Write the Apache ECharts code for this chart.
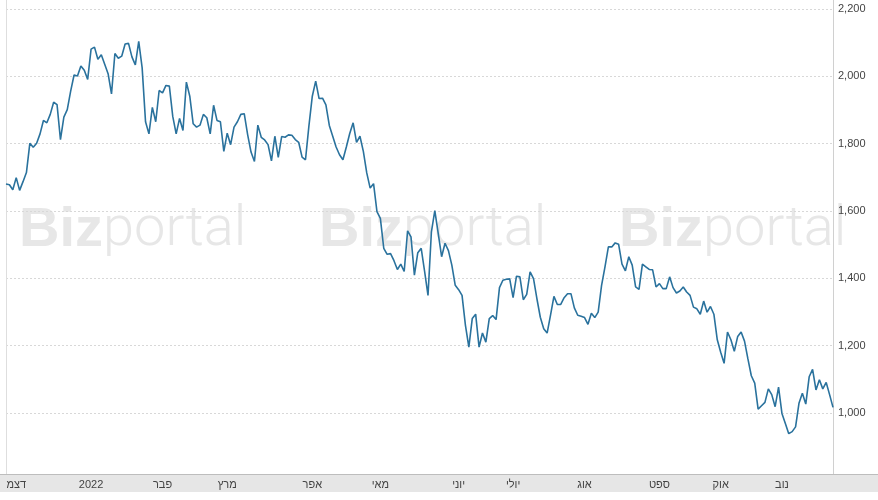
<!DOCTYPE html>
<html><head><meta charset="utf-8">
<script src="https://cdn.jsdelivr.net/npm/echarts@6/dist/echarts.min.js"></script>
<style>html,body{margin:0;padding:0;background:#fff}#c{width:878px;height:500px}</style>
</head><body><div id="c"></div>
<script>
const monthLabels = ['דצמ','2022','פבר','מרץ','אפר','מאי','יוני','יולי','אוג','ספט','אוק','נוב'];
const monthIdx = [3,25,46,65,90,110,133,149,170,192,210,228];
const yTicks = [1000,1200,1400,1600,1800,2000,2200];
const valuesQ1 = [1680,1678,1663,1699,1661,1687,1714,1801,1789,1801,1829,1869,1862,1887,1923,1916,1812,1879,1901,1956,2004,2001,2031,2018,1991,2081,2087,2051,2064,2036,2008,1948,2068,2054,2060,2096,2098,2058,2034,2104,2026,
1865,1829,1908,1865,1958,1951,1973,1971,1881,1829,1875,1839,1983,1941,1859,1849,1855,1887,1877,1829,1914,1869,1865,1777,1831,1797,1849,1865,1887,1889,1827,1775,1747,1855,1819,1811,1797,1749,1822,1759,1821];
const valuesQ2 = [1819,1826,1825,1812,1804,1760,1752,1852,1941,1986,1934,1935,1915,1854,1822,1790,1767,1752,1790,1830,1862,1804,1822,1777,1713,1668,1681,1598,1578,1489,1471,1473,1452,1426,1442,1420,1541,1523,1409,1476,1489,
1420,1349,1538,1601,1533,1464,1504,1482,1439,1379,1366,1349,1260,1195,1280,1293,1195,1237,1210,1280,1289,1277,1372,1394,1397,1398,1342,1406,1404,1336,1352,1419,1399,1339,1284,1250,1237,1290,1346,1322,1322,1342];
const valuesQ3 = [1354,1354,1312,1290,1287,1283,1263,1296,1283,1299,1379,1434,1493,1493,1505,1501,1442,1422,1464,1439,1374,1367,1442,1434,1426,1425,1374,1384,1369,1369,1404,1372,1356,1362,1374,1359,1349,1314,1309,1293,1332,
1299,1316,1293,1217,1180,1147,1240,1217,1183,1227,1240,1213,1160,1110,1088,1011,1021,1031,1071,1054,1018,1076,998,968,938,944,958,1028,1058,1026,1107,1129,1068,1098,1071,1090,1054,1016];

const values = valuesQ1.concat(valuesQ2, valuesQ3);
const categories = values.map((v, i) => String(i));
const labelAt = {};
monthIdx.forEach((k, j) => { labelAt[k] = monthLabels[j]; });

const chart = echarts.init(document.getElementById('c'), null, {renderer: 'canvas'});
const wmColor = '#e7e7e7';
const wm = (x) => ({
  type: 'text', left: x, top: 203, z: -10, silent: true,
  style: {
    text: '{b|Biz}{p|portal}',
    rich: {
      b: {fontFamily: 'Liberation Sans', fontWeight: 'bold', fontSize: 56, fill: wmColor},
      p: {fontFamily: 'Roboto', fontWeight: 300, fontSize: 56, fill: wmColor}
    }
  }
});
chart.setOption({
  animation: false,
  backgroundColor: '#fff',
  grid: {left: 6, right: 45, top: 0, bottom: 26, containLabel: false},
  graphic: [
    wm(19), wm(319), wm(619),
    {type: 'rect', silent: true, z: -5, shape: {x: 0, y: 474, width: 878, height: 18}, style: {fill: '#e6e6e6'}},
    {type: 'line', silent: true, z: 10, shape: {x1: 0, y1: 474.5, x2: 878, y2: 474.5}, style: {stroke: '#bdbdbd', lineWidth: 1}}
  ],
  xAxis: {
    type: 'category', data: categories, boundaryGap: false,
    axisLine: {show: true, lineStyle: {color: '#bdbdbd'}},
    axisTick: {show: false},
    splitLine: {show: false},
    axisLabel: {
      interval: (i) => labelAt[i] !== undefined,
      formatter: (v, i) => labelAt[i] || '',
      color: '#444', fontSize: 11, fontFamily: 'Liberation Sans', margin: 5
    }
  },
  yAxis: [{
    type: 'value', position: 'right', min: 818, max: 2227,
    axisLine: {show: true, lineStyle: {color: '#d0d0d0'}},
    axisTick: {show: false, customValues: yTicks},
    axisLabel: {customValues: yTicks, formatter: (v) => Number(v).toLocaleString('en-US'), color: '#444', fontSize: 11, fontFamily: 'Liberation Sans', margin: 5},
    splitLine: {show: true, lineStyle: {color: '#d8d8d8', type: [2, 2], width: 1}}
  }, {
    type: 'value', position: 'left', min: 818, max: 2227,
    axisLine: {show: true, lineStyle: {color: '#dedede'}},
    axisTick: {show: false}, axisLabel: {show: false}, splitLine: {show: false}
  }],
  series: [{
    type: 'line', data: values, yAxisIndex: 0, showSymbol: false, symbol: 'none',
    lineStyle: {color: '#2a729d', width: 1.6}, z: 5
  }]
});
</script></body></html>
